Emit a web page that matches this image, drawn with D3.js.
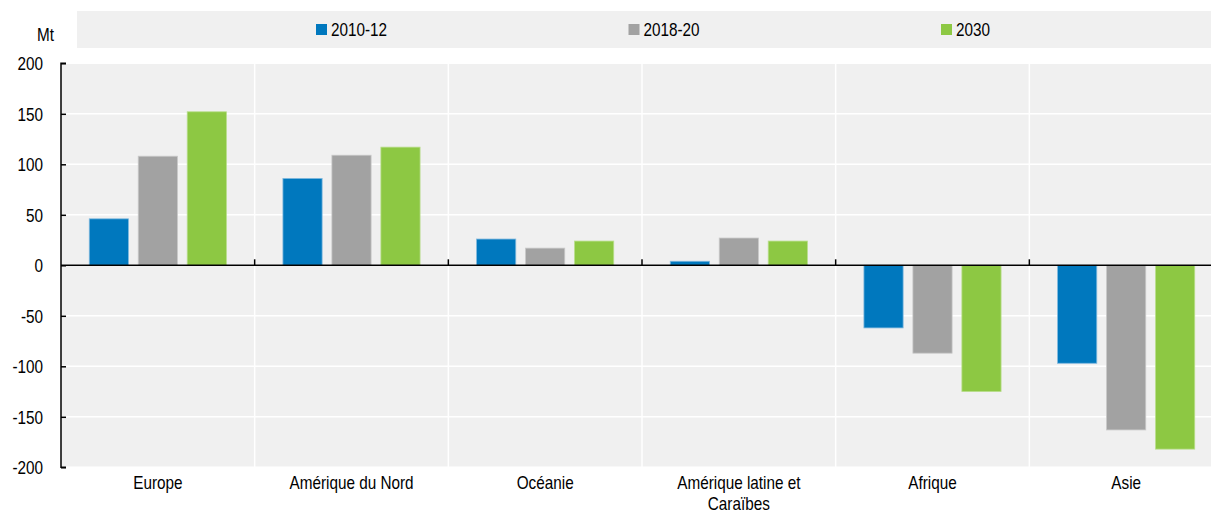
<!DOCTYPE html>
<html><head><meta charset="utf-8">
<script src="https://cdn.jsdelivr.net/npm/d3@7"></script>
<style>body{margin:0;background:#fff;}svg{display:block;font-family:"Liberation Sans",Arial,sans-serif;}</style>
</head><body><svg id="c" width="1211" height="514"></svg>
<script>
const categories = ["Europe","Amérique du Nord","Océanie","Amérique latine et|Caraïbes","Afrique","Asie"];
const seriesNames = ["2010-12","2018-20","2030"];
const s2010 = [46, 86, 26, 4, -62, -97];
const s2018 = [108, 109, 17, 27, -87, -163];
const s2030 = [152, 117, 24, 24, -125, -182];
const colors = ["#0078be","#a2a2a2","#8dc843"];
const strokes = ["#7fb8de","#c8c8c8","#b9de8c"];
const yTicks = [200,150,100,50,0,-50,-100,-150,-200];
const unit = "Mt";

const FS = 18, SX = 0.85;
const svg = d3.select("#c");
const L = 61, R = 1223, T = 63.3, B = 467.3;
const x = d3.scaleBand().domain(categories).range([L,R]).paddingInner(0).paddingOuter(0);
const xs = d3.scaleBand().domain(seriesNames).range([0, x.bandwidth()]).paddingInner(0.2).paddingOuter(0.577);
const y = d3.scaleLinear().domain([-200,200]).range([B,T]);

function txt(g, tx, ty, s, anchor){
  return g.append("text").attr("transform",`translate(${tx},${ty}) scale(${SX},1)`)
    .attr("text-anchor",anchor||"start").attr("font-size",FS).attr("fill","#000").text(s);
}

// legend
svg.append("rect").attr("x",77).attr("y",11).attr("width",1134).attr("height",37).attr("fill","#f0f0f0");
seriesNames.forEach((s,i)=>{
  const lx = 316 + i*312.5;
  svg.append("rect").attr("x",lx).attr("y",24).attr("width",11).attr("height",11).attr("fill",colors[i]);
  txt(svg, lx+15, 36, s);
});
txt(svg, 37, 40.5, unit);

// plot bg
svg.append("rect").attr("x",L).attr("y",T).attr("width",R-L).attr("height",B-T).attr("fill","#f0f0f0");
// grid
svg.append("g").selectAll("line").data(yTicks).join("line")
  .attr("x1",L).attr("x2",R).attr("y1",d=>y(d)).attr("y2",d=>y(d)).attr("stroke","#fff").attr("stroke-width",1.5);
svg.append("g").selectAll("line").data(categories.slice(1)).join("line")
  .attr("x1",d=>x(d)).attr("x2",d=>x(d)).attr("y1",T).attr("y2",B).attr("stroke","#fff").attr("stroke-width",1.5);

// bars
const data = [s2010,s2018,s2030];
data.forEach((arr,si)=>{
  svg.append("g").selectAll("rect").data(arr).join("rect")
    .attr("x",(d,i)=>x(categories[i])+xs(seriesNames[si]))
    .attr("width",xs.bandwidth())
    .attr("y",d=>y(Math.max(0,d)))
    .attr("height",d=>Math.abs(y(d)-y(0)))
    .attr("fill",colors[si]).attr("stroke",strokes[si]).attr("stroke-width",0.8);
});

// zero line
svg.append("line").attr("x1",L).attr("x2",R).attr("y1",y(0)).attr("y2",y(0)).attr("stroke","#000").attr("stroke-width",1.5);
svg.append("g").selectAll("line").data(categories.slice(1)).join("line")
  .attr("x1",d=>x(d)).attr("x2",d=>x(d)).attr("y1",y(0)-6).attr("y2",y(0)).attr("stroke","#000").attr("stroke-width",1.5);

// y axis
const yAxis = d3.axisRight(y).tickValues(yTicks).tickSize(5).tickFormat(d=>String(d));
const ga = svg.append("g").attr("transform",`translate(${L},0)`).call(yAxis);
ga.attr("font-family",null).attr("font-size",null);
ga.select(".domain").attr("stroke","#000").attr("stroke-width",1.5).attr("d",`M5,${T}H0V${B}H5`);
ga.selectAll(".tick line").attr("stroke","#000").attr("stroke-width",1.5);
ga.selectAll(".tick text").attr("x",null).attr("dy",null)
  .attr("transform",`translate(-18,6.3) scale(${SX},1)`)
  .attr("text-anchor","end").attr("font-size",FS).attr("fill","#000");

// x labels
categories.forEach(c=>{
  const lines = c.split("|");
  const cx = x(c)+x.bandwidth()/2;
  lines.forEach((ln,i)=>txt(svg, cx, 489 + i*20.5, ln, "middle"));
});
</script></body></html>
